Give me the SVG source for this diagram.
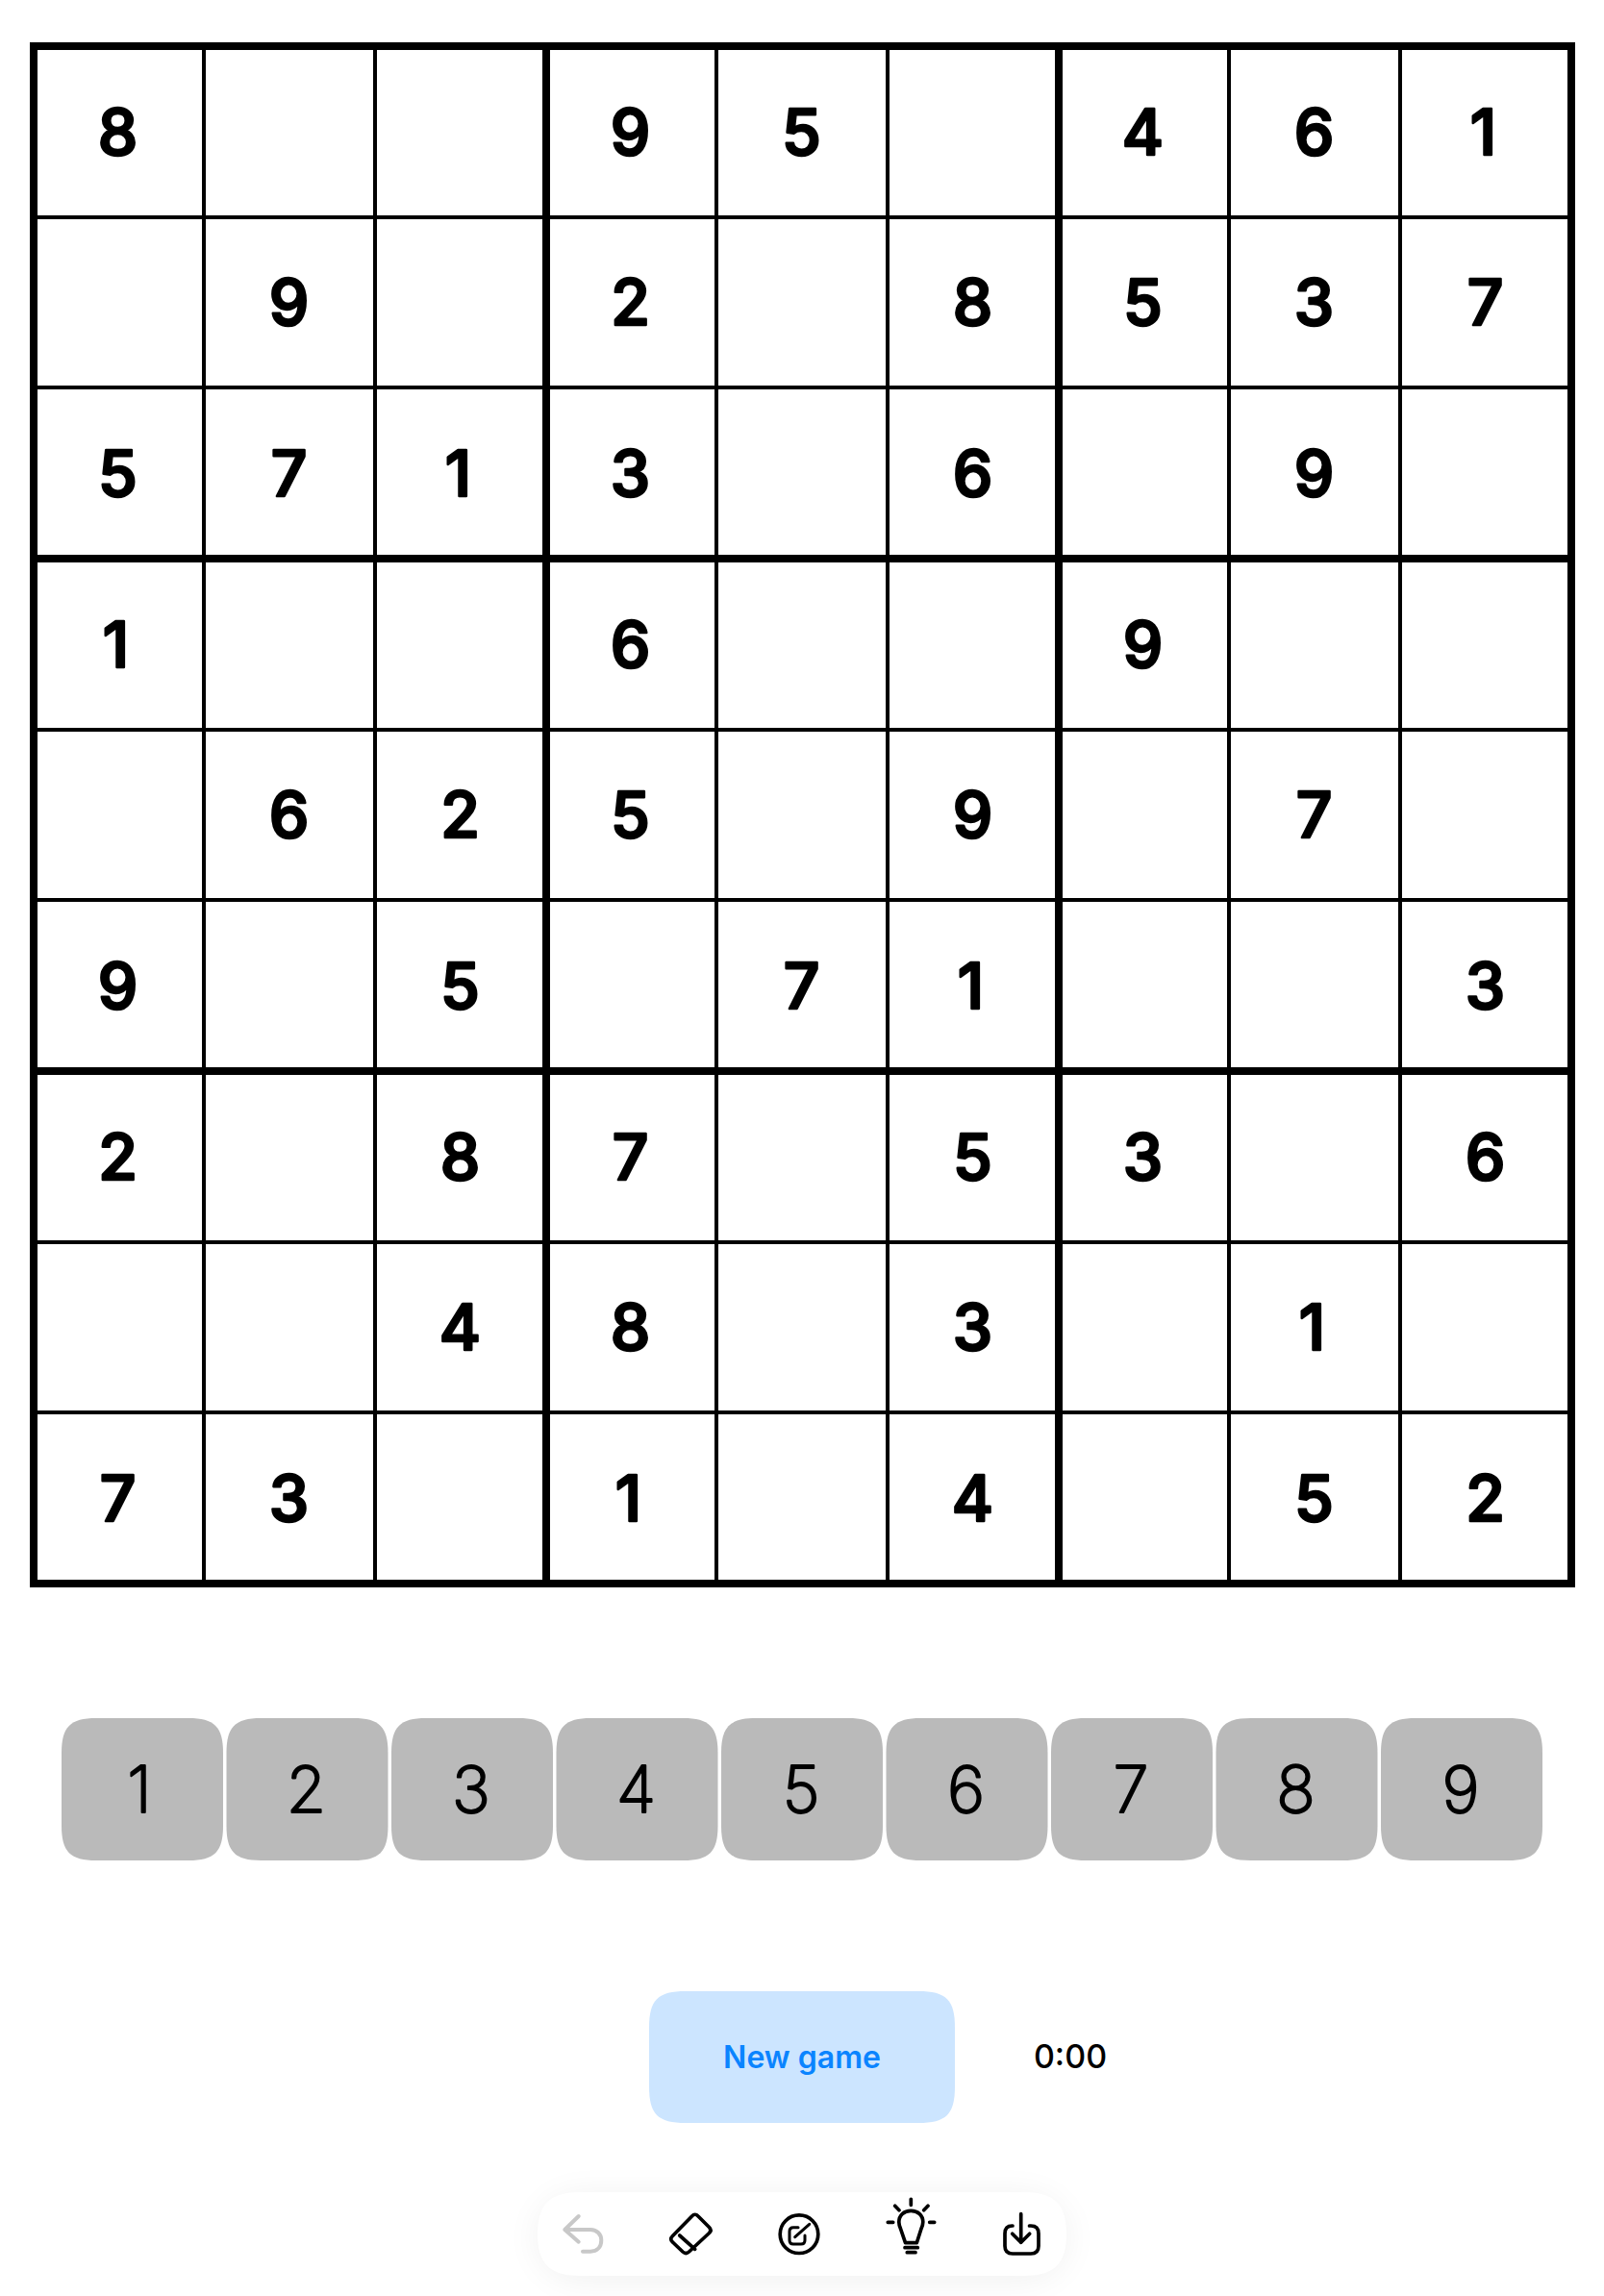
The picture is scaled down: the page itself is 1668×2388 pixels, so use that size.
<svg xmlns="http://www.w3.org/2000/svg" width="1668" height="2388" viewBox="0 0 1668 2388">
<style>
text{font-family:Inter,"Liberation Sans",sans-serif;text-anchor:middle}
.g{font-size:66px;font-weight:500;fill:#000;stroke:#000;stroke-width:2.6px;stroke-linejoin:round}
.k{font-size:67px;font-weight:200;fill:#000;stroke:#000;stroke-width:2.2px;stroke-linejoin:round}
.thin{stroke:#000;stroke-width:4;fill:none}
.thick{stroke:#000;stroke-width:8;fill:none}
.key{fill:#bababa}
.ic{fill:none;stroke:#000;stroke-width:3.7;stroke-linecap:round;stroke-linejoin:round}
</style>
<defs>
<path id="keyshape" d="M0,36C0,9 9,0 36,0H132C159,0 168,9 168,36V112C168,139 159,148 132,148H36C9,148 0,139 0,112Z"/>
<filter id="sh" x="-20%" y="-80%" width="140%" height="260%"><feGaussianBlur stdDeviation="18"/></filter>
</defs>
<rect width="1668" height="2388" fill="#fff"/>
<g id="grid">
<path class="thin" d="M212,48V1647M390,48V1647M745,48V1647M923,48V1647M1278,48V1647M1456,48V1647M35,226H1634M35,403H1634M35,759H1634M35,936H1634M35,1292H1634M35,1469H1634"/>
<path class="thick" d="M568,48V1647M1101,48V1647M35,581H1634M35,1114H1634"/>
<rect class="thick" x="35" y="48" width="1599" height="1599"/>
</g>
<g id="cells" transform="translate(-0.5 -1)">
<text class="g" x="123" y="162">8</text><text class="g" x="656" y="162">9</text><text class="g" x="834" y="162">5</text><text class="g" x="1189" y="162">4</text><text class="g" x="1367" y="162">6</text><text class="g" x="1543" y="162">1</text>
<text class="g" x="301" y="339">9</text><text class="g" x="656" y="339">2</text><text class="g" x="1012" y="339">8</text><text class="g" x="1189" y="339">5</text><text class="g" x="1367" y="339">3</text><text class="g" x="1545" y="339">7</text>
<text class="g" x="123" y="517">5</text><text class="g" x="301" y="517">7</text><text class="g" x="477" y="517">1</text><text class="g" x="656" y="517">3</text><text class="g" x="1012" y="517">6</text><text class="g" x="1367" y="517">9</text>
<text class="g" x="121" y="695">1</text><text class="g" x="656" y="695">6</text><text class="g" x="1189" y="695">9</text>
<text class="g" x="301" y="872">6</text><text class="g" x="479" y="872">2</text><text class="g" x="656" y="872">5</text><text class="g" x="1012" y="872">9</text><text class="g" x="1367" y="872">7</text>
<text class="g" x="123" y="1050">9</text><text class="g" x="479" y="1050">5</text><text class="g" x="834" y="1050">7</text><text class="g" x="1010" y="1050">1</text><text class="g" x="1545" y="1050">3</text>
<text class="g" x="123" y="1228">2</text><text class="g" x="479" y="1228">8</text><text class="g" x="656" y="1228">7</text><text class="g" x="1012" y="1228">5</text><text class="g" x="1189" y="1228">3</text><text class="g" x="1545" y="1228">6</text>
<text class="g" x="479" y="1405">4</text><text class="g" x="656" y="1405">8</text><text class="g" x="1012" y="1405">3</text><text class="g" x="1365" y="1405">1</text>
<text class="g" x="123" y="1583">7</text><text class="g" x="301" y="1583">3</text><text class="g" x="654" y="1583">1</text><text class="g" x="1012" y="1583">4</text><text class="g" x="1367" y="1583">5</text><text class="g" x="1545" y="1583">2</text>
</g>
<g id="key-1"><use href="#keyshape" class="key" x="64" y="1787"/><text class="k" x="145" y="1885">1</text></g>
<g id="key-2"><use href="#keyshape" class="key" x="235.5" y="1787"/><text class="k" x="318.5" y="1885">2</text></g>
<g id="key-3"><use href="#keyshape" class="key" x="407" y="1787"/><text class="k" x="490" y="1885">3</text></g>
<g id="key-4"><use href="#keyshape" class="key" x="578.5" y="1787"/><text class="k" x="661.5" y="1885">4</text></g>
<g id="key-5"><use href="#keyshape" class="key" x="750" y="1787"/><text class="k" x="833" y="1885">5</text></g>
<g id="key-6"><use href="#keyshape" class="key" x="921.5" y="1787"/><text class="k" x="1004.5" y="1885">6</text></g>
<g id="key-7"><use href="#keyshape" class="key" x="1093" y="1787"/><text class="k" x="1176" y="1885">7</text></g>
<g id="key-8"><use href="#keyshape" class="key" x="1264.5" y="1787"/><text class="k" x="1347.5" y="1885">8</text></g>
<g id="key-9"><use href="#keyshape" class="key" x="1436" y="1787"/><text class="k" x="1519" y="1885">9</text></g>
<g id="new-game">
<path fill="#cce5ff" d="M675,2109C675,2080 684,2071 713,2071H955C984,2071 993,2080 993,2109V2170C993,2199 984,2208 955,2208H713C684,2208 675,2199 675,2170Z"/>
<text x="834" y="2151" font-size="32" font-weight="600" fill="#0a84ff">New game</text>
</g>
<g id="timer"><text x="1113" y="2151" font-size="34" font-weight="500" fill="#000">0:00</text></g>
<g id="toolbar">
<rect x="559" y="2284" width="550" height="87" rx="44" fill="#000" opacity="0.06" filter="url(#sh)"/>
<path fill="#fff" d="M559,2323.5C559,2292 572,2280 604,2280H1064C1096,2280 1109,2292 1109,2323.5C1109,2355 1096,2367 1064,2367H604C572,2367 559,2355 559,2323.5Z"/>
<g id="undo"><path class="ic" style="stroke:#c8c8c8;stroke-width:4" d="M601.7,2305L587.3,2319L601.7,2331.7M587.3,2319H614C621,2319 625.3,2324 625.3,2330C625.3,2337 621,2341.7 614,2341.7H606"/></g>
<g id="eraser"><path class="ic" d="M719.5,2305Q722.7,2301.5 726,2305L737.5,2316.5Q740.5,2319.5 737.5,2322.5L716.5,2342Q713.3,2345 710,2342L699.5,2332Q696,2329 699.5,2325.5ZM706.7,2325L722.7,2339.3"/></g>
<g id="notes"><circle class="ic" cx="831" cy="2323.7" r="19.8"/><path class="ic" style="stroke-width:3" d="M830,2316.7H825Q821,2316.7 821,2320.7V2330Q821,2334 825,2334H833Q837,2334 837,2330V2325M826.7,2326.7L841.7,2313.3"/></g>
<g id="hint"><path class="ic" d="M947.3,2287.3V2293.3M930.7,2294.3L935,2298.7M965,2294.3L960.7,2298.7M923.3,2311.3H928.7M966.7,2311.3H971.7M941.5,2332.7L936.5,2318C934.8,2314 934.8,2312 934.8,2311C934.8,2304 940,2299.3 947.3,2299.3C954.6,2299.3 959.8,2304 959.8,2311C959.8,2312 959.8,2314 958,2318L953.3,2332.7ZM941,2337.7H954.3M943.3,2342.7H952"/></g>
<g id="save"><path class="ic" d="M1061.7,2302.7V2332.3M1052.7,2323.3L1061.7,2332.3L1070.7,2323.3M1053,2315H1052.5Q1045,2315 1045,2323V2336Q1045,2344 1053,2344H1072Q1080,2344 1080,2336V2323Q1080,2315 1072,2315H1070.5"/></g>
</g>
</svg>
